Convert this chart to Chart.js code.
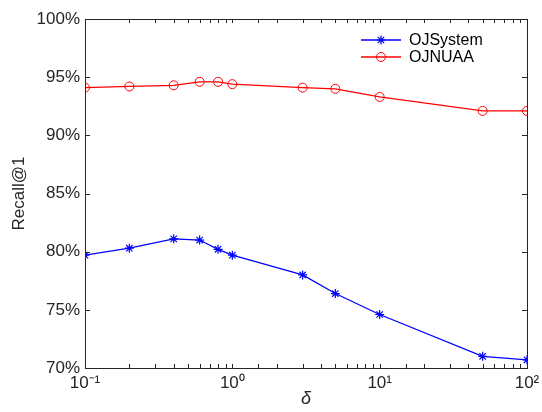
<!DOCTYPE html>
<html>
<head>
<meta charset="utf-8">
<script src="https://cdn.jsdelivr.net/npm/chart.js@4/dist/chart.umd.min.js"></script>
<style>
  html, body { margin: 0; padding: 0; background: #fff; }
  #wrap { width: 542px; height: 412px; }
</style>
</head>
<body>
<div id="wrap"><canvas id="myChart" width="542" height="412"></canvas></div>
<script>
// delta values (log x axis) and Recall@1 for each system
const deltas = [0.1, 0.2, 0.4, 0.6, 0.8, 1, 3, 5, 10, 50, 100];
const ojSystem = [79.7, 80.3, 81.1, 81.0, 80.2, 79.7, 78.0, 76.4, 74.6, 71.0, 70.7];
const ojNuaa = [94.1, 94.2, 94.3, 94.6, 94.6, 94.4, 94.1, 94.0, 93.3, 92.1, 92.1];
const yTicks = [70, 75, 80, 85, 90, 95, 100];
const decadeLabels = {0.1: "10\u207B\u00B9", 1: "10\u2070", 10: "10\u00B9", 100: "10\u00B2"};

const axisColor = "#262626";
const fontFamily = "'Liberation Sans', Arial, sans-serif";

function toPoints(vals) {
	return deltas.map(function(d, i) { return {x: d, y: vals[i]}; });
}

// box around the plot with ticks pointing inward on all four sides
const frameTicks = {
	id: "frameTicks",
	afterDraw: function(chart) {
		const ctx = chart.ctx, a = chart.chartArea;
		const xs = chart.scales.x, ys = chart.scales.y;
		ctx.save();
		ctx.strokeStyle = axisColor;
		ctx.lineWidth = 1;
		ctx.beginPath();
		xs.ticks.forEach(function(t) {
			const px = Math.round(xs.getPixelForValue(t.value)) + 0.5;
			if (t.value < 0.1 || t.value > 100) return;
			ctx.moveTo(px, a.bottom); ctx.lineTo(px, a.bottom - 4);
			ctx.moveTo(px, a.top); ctx.lineTo(px, a.top + 4);
		});
		ys.ticks.forEach(function(t) {
			const py = Math.round(ys.getPixelForValue(t.value)) + 0.5;
			ctx.moveTo(a.left, py); ctx.lineTo(a.left + 5, py);
			ctx.moveTo(a.right, py); ctx.lineTo(a.right - 5, py);
		});
		ctx.stroke();
		ctx.strokeRect(Math.round(a.left) + 0.5, Math.round(a.top) + 0.5,
			Math.round(a.right - a.left), Math.round(a.bottom - a.top));
		ctx.restore();
	}
};

// legend with a line through the marker, like the original
const lineLegend = {
	id: "lineLegend",
	afterDraw: function(chart) {
		const ctx = chart.ctx, a = chart.chartArea;
		ctx.save();
		ctx.font = "16px " + fontFamily;
		ctx.textBaseline = "middle";
		chart.data.datasets.forEach(function(ds, i) {
			const y = a.top + 21 + i * 17;
			const x0 = a.right - 166;
			ctx.strokeStyle = ds.borderColor;
			ctx.fillStyle = ds.backgroundColor;
			ctx.lineWidth = 1.3;
			ctx.beginPath();
			ctx.moveTo(x0, y); ctx.lineTo(x0 + 40, y);
			ctx.stroke();
			ctx.lineWidth = ds.pointBorderWidth;
			Chart.helpers.drawPoint(ctx, {
				pointStyle: ds.pointStyle, radius: ds.pointRadius,
				borderWidth: ds.pointBorderWidth, rotation: 0
			}, x0 + 20, y);
			ctx.fillStyle = "#000";
			ctx.fillText(ds.label, x0 + 48, y + 1);
		});
		ctx.restore();
	}
};

const ctx = document.getElementById("myChart").getContext("2d");
const myChart = new Chart(ctx, {
	type: "line",
	data: {
		datasets: [{
			label: "OJSystem",
			data: toPoints(ojSystem),
			borderColor: "#0000ff",
			backgroundColor: "#0000ff",
			pointStyle: "star",
			pointRadius: 4.5,
			pointBorderWidth: 1.2,
			borderWidth: 1.3
		}, {
			label: "OJNUAA",
			data: toPoints(ojNuaa),
			borderColor: "#ff0000",
			backgroundColor: "rgba(0,0,0,0)",
			pointStyle: "circle",
			pointRadius: 4.5,
			pointBorderWidth: 1,
			borderWidth: 1.3
		}]
	},
	options: {
		responsive: false,
		animation: false,
		layout: {padding: {top: 19, right: 15, left: 9, bottom: 0}},
		plugins: {legend: {display: false}, tooltip: {enabled: false}},
		scales: {
			x: {
				type: "logarithmic",
				min: 0.1, max: 100,
				grid: {display: false, drawTicks: false},
				border: {display: false},
				afterFit: function(s) { s.height = 44; s.paddingLeft = 0; s.paddingRight = 0; },
				ticks: {
					autoSkip: false, maxRotation: 0, padding: 5,
					color: axisColor,
					font: {family: fontFamily, size: 17},
					callback: function(v) { return decadeLabels[v] || ""; }
				},
				title: {
					display: true, text: "\u03B4", color: axisColor,
					font: {family: fontFamily, size: 18, style: "italic"},
					padding: {top: 0, bottom: 2}
				}
			},
			y: {
				min: 70, max: 100,
				afterBuildTicks: function(s) { s.ticks = yTicks.map(function(v) { return {value: v}; }); },
				afterFit: function(s) { s.width = 76; s.paddingTop = 0; s.paddingBottom = 0; },
				grid: {display: false, drawTicks: false},
				border: {display: false},
				ticks: {
					padding: 5, color: axisColor,
					font: {family: fontFamily, size: 17},
					callback: function(v) { return v + "%"; }
				},
				title: {
					display: true, text: "Recall@1", color: axisColor,
					font: {family: fontFamily, size: 17},
					padding: {top: 0, bottom: 4}
				}
			}
		}
	},
	plugins: [frameTicks, lineLegend]
});
</script>
</body>
</html>
